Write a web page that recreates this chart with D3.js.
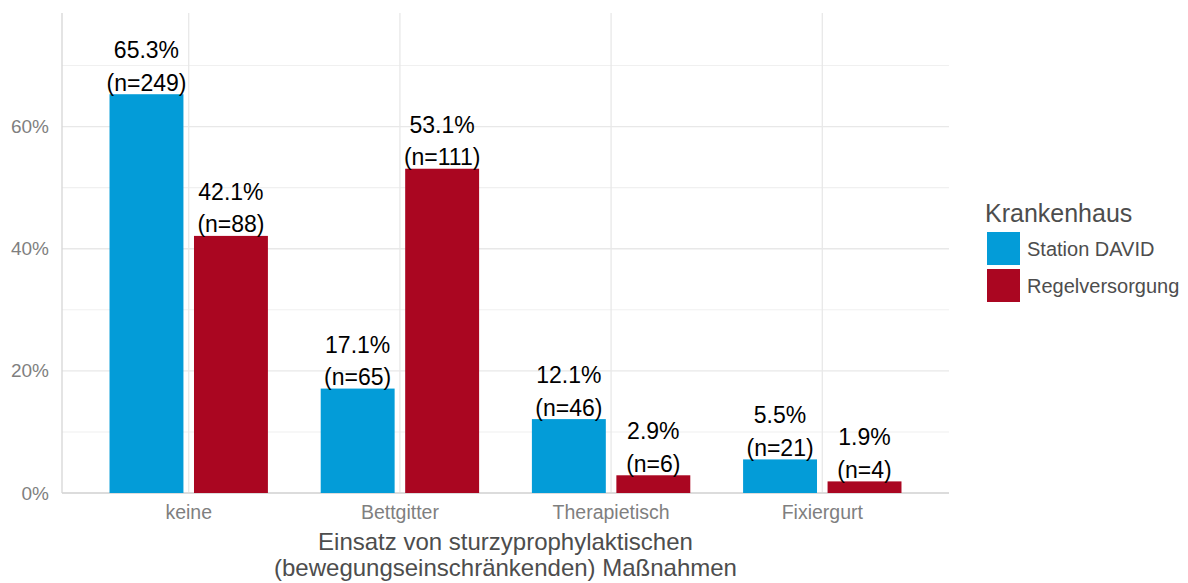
<!doctype html>
<html>
<head>
<meta charset="UTF-8">
<title>Sturzprophylaxe</title>
<script src="https://d3js.org/d3.v7.min.js"></script>
<style>
  body { margin: 0; background: #fff; }
  svg { font-family: "Liberation Sans", Arial, sans-serif; }
</style>
</head>
<body>
<svg id="chart" width="1188" height="583"></svg>
<script>
// data
var categories = ["keine", "Bettgitter", "Therapietisch", "Fixiergurt"];
var groups = ["Station DAVID", "Regelversorgung"];
var davidPct = [65.3, 17.1, 12.1, 5.5];
var davidN = [249, 65, 46, 21];
var regelPct = [42.1, 53.1, 2.9, 1.9];
var regelN = [88, 111, 6, 4];
var majorTicks = [0, 20, 40, 60];
var minorTicks = [10, 30, 50, 70];
var colors = ["#039cd8", "#aa0621"];

var rows = [];
categories.forEach(function(c, i) {
  rows.push({cat: c, grp: groups[0], pct: davidPct[i], n: davidN[i]});
  rows.push({cat: c, grp: groups[1], pct: regelPct[i], n: regelN[i]});
});

var svg = d3.select("#chart");
var pLeft = 62, pRight = 949, pTop = 13, pBottom = 493;

var x = d3.scaleBand().domain(categories).range([pLeft, pRight])
  .paddingInner(0).paddingOuter(0.1);
var step = x.step();
var xsub = d3.scalePoint().domain(groups).range([-0.2 * step, 0.2 * step]);
var barW = 0.35 * step;
var y = d3.scaleLinear().domain([0, 78.6]).range([pBottom, pTop]);
var color = d3.scaleOrdinal().domain(groups).range(colors);

function cx(c) { return x(c) + x.bandwidth() / 2; }

// grid
svg.append("g").selectAll("line").data(minorTicks).enter().append("line")
  .attr("x1", pLeft).attr("x2", pRight)
  .attr("y1", function(d) { return y(d); }).attr("y2", function(d) { return y(d); })
  .attr("stroke", "#f0f0f0").attr("stroke-width", 1.1);
svg.append("g").selectAll("line").data(majorTicks).enter().append("line")
  .attr("x1", pLeft).attr("x2", pRight)
  .attr("y1", function(d) { return y(d); }).attr("y2", function(d) { return y(d); })
  .attr("stroke", "#e8e8e8").attr("stroke-width", 1.3);
svg.append("g").selectAll("line").data(categories).enter().append("line")
  .attr("x1", cx).attr("x2", cx)
  .attr("y1", pTop).attr("y2", pBottom)
  .attr("stroke", "#e8e8e8").attr("stroke-width", 1.3);

// axis lines
svg.append("line").attr("x1", pLeft).attr("x2", pLeft).attr("y1", pTop).attr("y2", pBottom)
  .attr("stroke", "#d6d6d6").attr("stroke-width", 1.3);
svg.append("line").attr("x1", pLeft).attr("x2", pRight).attr("y1", pBottom).attr("y2", pBottom)
  .attr("stroke", "#d6d6d6").attr("stroke-width", 1.3);

// y axis labels
var yAxis = d3.axisLeft(y).tickValues(majorTicks)
  .tickFormat(function(d) { return d + "%"; }).tickSize(0).tickPadding(13);
var gy = svg.append("g").attr("transform", "translate(" + pLeft + ",0)").call(yAxis);
gy.select(".domain").remove();
gy.selectAll("text").attr("fill", "#7f7f7f").style("font-size", "19px")
  .style("font-family", "Liberation Sans, Arial, sans-serif");

// x axis labels
var xAxis = d3.axisBottom(x).tickSize(0).tickPadding(12);
var gx = svg.append("g").attr("transform", "translate(0," + pBottom + ")").call(xAxis);
gx.select(".domain").remove();
gx.selectAll("text").attr("fill", "#7f7f7f").style("font-size", "19.5px")
  .style("font-family", "Liberation Sans, Arial, sans-serif");

// bars
svg.append("g").selectAll("rect").data(rows).enter().append("rect")
  .attr("x", function(d) { return cx(d.cat) + xsub(d.grp) - barW / 2; })
  .attr("y", function(d) { return y(d.pct); })
  .attr("width", barW)
  .attr("height", function(d) { return y(0) - y(d.pct); })
  .attr("fill", function(d) { return color(d.grp); });

// value labels
var lab = svg.append("g").selectAll("text").data(rows).enter().append("text")
  .attr("text-anchor", "middle")
  .attr("fill", "#000")
  .style("font-size", "23px");
lab.append("tspan")
  .attr("x", function(d) { return cx(d.cat) + xsub(d.grp); })
  .attr("y", function(d) { return y(d.pct) - 36; })
  .text(function(d) { return d.pct.toFixed(1) + "%"; });
lab.append("tspan")
  .attr("x", function(d) { return cx(d.cat) + xsub(d.grp); })
  .attr("y", function(d) { return y(d.pct) - 3.5; })
  .text(function(d) { return "(n=" + d.n + ")"; });

// x title (two lines)
var titleX = (pLeft + pRight) / 2;
svg.append("text").attr("x", titleX).attr("y", 550)
  .attr("text-anchor", "middle").attr("fill", "#4d4d4d").style("font-size", "24px")
  .text("Einsatz von sturzyprophylaktischen");
svg.append("text").attr("x", titleX).attr("y", 576)
  .attr("text-anchor", "middle").attr("fill", "#4d4d4d").style("font-size", "24px")
  .text("(bewegungseinschränkenden) Maßnahmen");

// legend
var leg = svg.append("g");
leg.append("text").attr("x", 985).attr("y", 222).attr("fill", "#4d4d4d")
  .style("font-size", "25px").text("Krankenhaus");
var items = leg.selectAll("g.item").data(groups).enter().append("g").attr("class", "item")
  .attr("transform", function(d, i) { return "translate(987," + (232 + i * 37) + ")"; });
items.append("rect").attr("width", 33).attr("height", 33)
  .attr("fill", function(d) { return color(d); });
items.append("text").attr("x", 40).attr("y", 17).attr("dy", "0.35em")
  .attr("fill", "#4d4d4d").style("font-size", "20px")
  .text(function(d) { return d; });
</script>
</body>
</html>
